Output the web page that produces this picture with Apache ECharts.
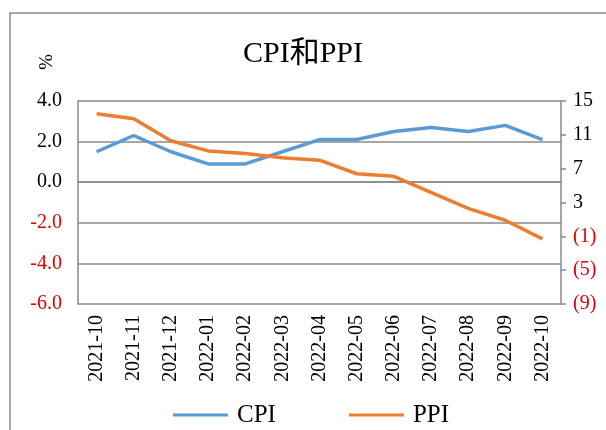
<!DOCTYPE html>
<html><head><meta charset="utf-8">
<script src="https://cdn.jsdelivr.net/npm/echarts@6/dist/echarts.min.js"></script>
<style>html,body{margin:0;padding:0;background:#fff}#c{width:606px;height:430px}</style>
</head><body><div id="c"></div>
<script>
const categories = ['2021-10','2021-11','2021-12','2022-01','2022-02','2022-03','2022-04','2022-05','2022-06','2022-07','2022-08','2022-09','2022-10'];
const cpiValues = [1.5, 2.3, 1.5, 0.9, 0.9, 1.5, 2.1, 2.1, 2.5, 2.7, 2.5, 2.8, 2.1];
const ppiValues = [13.5, 12.9, 10.3, 9.1, 8.8, 8.3, 8.0, 6.4, 6.1, 4.2, 2.3, 0.9, -1.3];
const leftTicks = [-6, -4, -2, 0, 2, 4];
const rightTicks = [-9, -5, -1, 3, 7, 11, 15];

const serif = '"Liberation Serif","Noto Sans CJK SC",serif';
const chart = echarts.init(document.getElementById('c'));
chart.setOption({
  animation: false,
  backgroundColor: '#fff',
  title: {
    text: 'CPI和PPI', left: 'center', top: 34,
    textStyle: { fontFamily: serif, fontSize: 30, fontWeight: 'normal', color: '#000' }
  },
  graphic: [
    { type: 'rect', shape: { x: 10, y: 13, width: 700, height: 500 }, style: { fill: 'none', stroke: '#8a8a8a', lineWidth: 1.5 } },
    { type: 'text', x: 53, y: 54, rotation: -Math.PI / 2, style: { text: '%', font: '19px ' + serif, fill: '#000' } }
  ],
  legend: {
    top: 397, left: 168, itemGap: 73, itemWidth: 55, itemHeight: 3,
    icon: 'rect',
    textStyle: { fontFamily: serif, fontSize: 25, lineHeight: 26, color: '#000', padding: [0, 0, 0, 4] },
    data: ['CPI', 'PPI']
  },
  grid: { left: 78, right: 45, top: 101, bottom: 126 },
  xAxis: {
    type: 'category', data: categories, boundaryGap: true,
    axisLine: { lineStyle: { color: '#8a8a8a', width: 1.5 } },
    axisTick: { show: false },
    axisLabel: { rotate: 90, fontFamily: serif, fontSize: 20, color: '#000', margin: 11, interval: 0 }
  },
  yAxis: [
    {
      type: 'value', min: -6, max: 4, interval: 2,
      axisLine: { show: true, lineStyle: { color: '#8a8a8a', width: 1.5 } },
      axisTick: { show: false },
      splitLine: { lineStyle: { color: '#8a8a8a', width: 1.5 } },
      axisLabel: {
        customValues: leftTicks,
        fontFamily: serif, fontSize: 20, margin: 16,
        formatter: v => v.toFixed(1),
        color: v => (Number(v) < 0 ? '#e00000' : '#000')
      }
    },
    {
      type: 'value', min: -9, max: 15, position: 'right',
      axisLine: { show: true, lineStyle: { color: '#8a8a8a', width: 1.5 } },
      axisTick: { show: true, inside: false, length: 5, customValues: rightTicks, lineStyle: { color: '#8a8a8a', width: 1.5 } },
      splitLine: { show: false },
      axisLabel: {
        customValues: rightTicks,
        fontFamily: serif, fontSize: 20, margin: 12,
        formatter: v => (v < 0 ? '(' + Math.abs(v) + ')' : String(v)),
        color: v => (Number(v) < 0 ? '#e00000' : '#000')
      }
    }
  ],
  series: [
    { name: 'CPI', type: 'line', yAxisIndex: 0, data: cpiValues, symbol: 'none',
      lineStyle: { color: '#5B9BD5', width: 3.5 }, itemStyle: { color: '#5B9BD5' } },
    { name: 'PPI', type: 'line', yAxisIndex: 1, data: ppiValues, symbol: 'none',
      lineStyle: { color: '#ED7D31', width: 3.5 }, itemStyle: { color: '#ED7D31' } }
  ]
});
</script></body></html>
